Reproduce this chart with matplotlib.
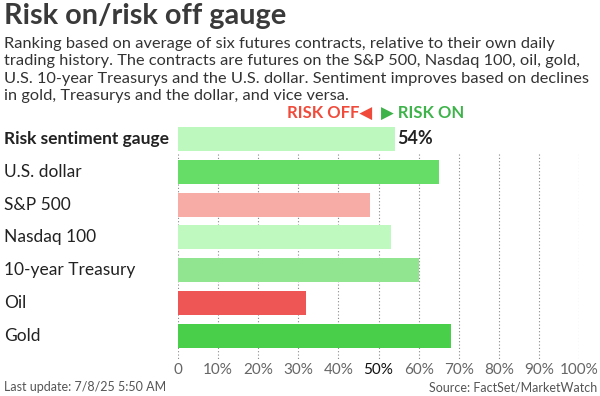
import matplotlib
matplotlib.use("Agg")
import matplotlib.pyplot as plt
from matplotlib.transforms import blended_transform_factory

plt.rcParams['font.family'] = ['Lato', 'DejaVu Sans']

# data
labels = ['Risk sentiment gauge', 'U.S. dollar', 'S&P 500', 'Nasdaq 100',
          '10-year Treasury', 'Oil', 'Gold']
values = [54, 65, 48, 53, 60, 32, 68]
colors = ['#bdf8be', '#66dd66', '#f7aca5', '#c0f9c0', '#91e591', '#ee5656', '#4acf4a']
ticks = [0, 10, 20, 30, 40, 50, 60, 70, 80, 90, 100]
tick_labels = ['0', '10%', '20%', '30%', '40%', '50%', '60%', '70%', '80%', '90%', '100%']

title = 'Risk on/risk off gauge'
subtitle = ('Ranking based on average of six futures contracts, relative to their own daily\n'
            'trading history. The contracts are futures on the S&P 500, Nasdaq 100, oil, gold,\n'
            'U.S. 10-year Treasurys and the U.S. dollar. Sentiment improves based on declines\n'
            'in gold, Treasurys and the dollar, and vice versa.')

fig = plt.figure(figsize=(6, 3.96), dpi=100)
ax = fig.add_axes([178/600, 1 - 360.4/396, 401/600, 237.8/396])

ypos = list(range(len(labels)))
ax.barh(ypos, values, height=0.73, color=colors, zorder=2)
ax.vlines(ticks, 0.45, 6.75, colors='#888888', linestyles=(0, (1, 2)), linewidth=0.8, zorder=1)

ax.set_xlim(0, 100)
ax.set_ylim(6.75, -0.5)
for s in ax.spines.values():
    s.set_visible(False)
ax.set_yticks([])
ax.set_xticks(ticks)
ax.set_xticklabels(tick_labels, fontsize=11, color='#666666')
ax.tick_params(axis='x', length=0, pad=2)
ax.get_xticklabels()[5].set_color('#111111')

tr = blended_transform_factory(fig.transFigure, ax.transData)
for i, lab in enumerate(labels):
    ax.text(4/600, i, lab, transform=tr, ha='left', va='center', fontsize=12.5,
            color='#222222', fontweight='bold' if i == 0 else 'normal')

ax.text(values[0] + 0.6, 0, f'{values[0]}%', ha='left', va='center', fontsize=13,
        fontweight='bold', color='#222222')

# risk off / risk on key
ax.text(48.5, -0.8, 'RISK OFF\u25C0', ha='right', va='center', fontsize=12,
        fontweight='bold', color='#f04a3a')
ax.text(50.6, -0.8, '\u25B6 RISK ON', ha='left', va='center', fontsize=12,
        fontweight='bold', color='#3db34a')

fig.text(4/600, 1 - 3/396, title, ha='left', va='top', fontsize=20.8,
         fontweight='bold', color='#3a3a3a')
fig.text(4/600, 1 - 37/396, subtitle, ha='left', va='top', fontsize=11.8,
         color='#333333', linespacing=1.3)
fig.text(4/600, 1 - 387/396, 'Last update: 7/8/25 5:50 AM', ha='left', va='center',
         fontsize=9, color='#555555')
fig.text(597/600, 1 - 387/396, 'Source: FactSet/MarketWatch', ha='right', va='center',
         fontsize=9, color='#555555')

fig.savefig('out.png', dpi=100)
